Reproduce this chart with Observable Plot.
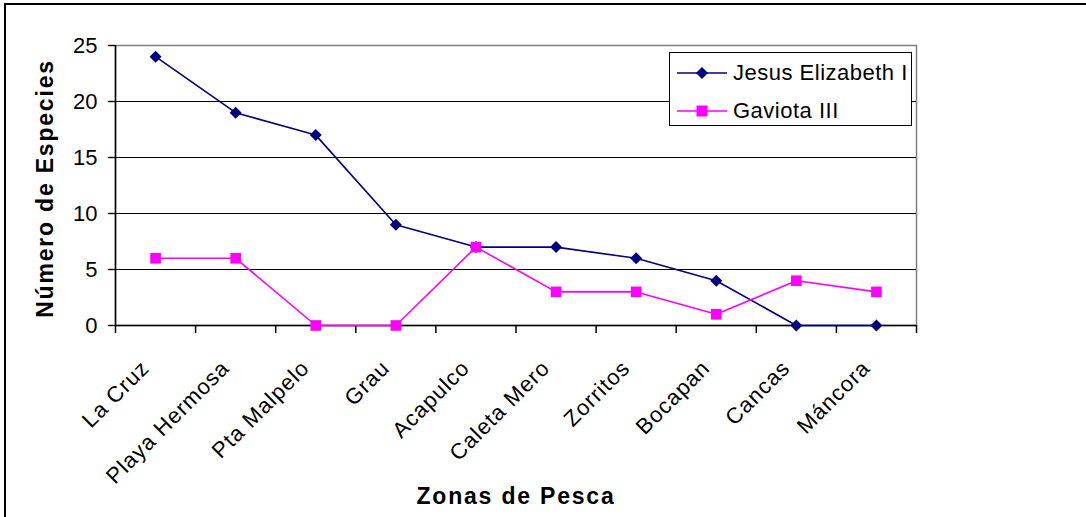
<!DOCTYPE html>
<html>
<head>
<meta charset="utf-8">
<script src="https://cdn.jsdelivr.net/npm/d3@7"></script>
<script src="https://cdn.jsdelivr.net/npm/@observablehq/plot@0.6"></script>
<style>
  body { margin: 0; background: #fff; }
  #wrap { position: relative; width: 1086px; height: 517px; overflow: hidden; font-family: "Liberation Sans", Arial, sans-serif; }
  #border { position: absolute; left: 4px; top: 3px; width: 1100px; height: 600px; border-top: 2px solid #000; border-left: 2px solid #000; box-sizing: border-box; pointer-events: none; }
  #legend { position: absolute; left: 669px; top: 52px; width: 243px; height: 74px; border: 1px solid #000; background: #fff; box-sizing: border-box; }
  .row { position: absolute; left: 7px; height: 30px; display: flex; align-items: center; font-size: 22px; letter-spacing: 0.5px; color: #000; white-space: nowrap; }
  .row svg { margin-right: 6px; }
</style>
</head>
<body>
<div id="wrap"></div>
<script>
const zonas = ["La Cruz", "Playa Hermosa", "Pta Malpelo", "Grau", "Acapulco", "Caleta Mero", "Zorritos", "Bocapan", "Cancas", "Máncora"];
const jesus = [24, 19, 17, 9, 7, 7, 6, 4, 0, 0];
const gaviota = [6, 6, 0, 0, 7, 3, 3, 1, 4, 3];
const yTicks = [0, 5, 10, 15, 20, 25];
const seriesNames = ["Jesus Elizabeth I", "Gaviota III"];
const colors = ["#000080", "#FF00FF"];

const n = zonas.length;
const centers = zonas.map((_, i) => i + 0.5);
const boundaries = d3.range(n + 1);
const dJ = zonas.map((z, i) => ({x: i + 0.5, y: jesus[i]}));
const dG = zonas.map((z, i) => ({x: i + 0.5, y: gaviota[i]}));

const font = "Liberation Sans, Arial, sans-serif";

const chart = Plot.plot({
  width: 1086,
  height: 517,
  marginLeft: 115,
  marginRight: 170,
  marginTop: 45,
  marginBottom: 192,
  style: {fontFamily: font, color: "#000", background: "transparent", overflow: "visible"},
  x: {type: "linear", domain: [0, n]},
  y: {domain: [0, 25]},
  marks: [
    Plot.gridY(yTicks, {stroke: "#000", strokeOpacity: 1, strokeWidth: 1}),
    Plot.frame({stroke: "#808080", strokeWidth: 1.5}),
    Plot.axisY(yTicks, {tickSize: 7, tickPadding: 11, fontSize: 22, label: null, stroke: "#000", strokeWidth: 1.4}),
    Plot.axisX(boundaries, {tickSize: 8, tickFormat: null, text: null, label: null, stroke: "#000", strokeWidth: 1.5, strokeOpacity: 1}),
    Plot.axisX(centers, {tickSize: 0, tickPadding: 39, tickRotate: -45, fontSize: 22, dx: -10, tickFormat: (d) => zonas[Math.round(d - 0.5)], label: null, className: "xlab"}),
    Plot.ruleX([0], {stroke: "#000", strokeWidth: 1.5}),
    Plot.ruleY([0], {stroke: "#000", strokeWidth: 1.5}),
    Plot.line(dJ, {x: "x", y: "y", stroke: colors[0], strokeWidth: 1.6}),
    Plot.line(dG, {x: "x", y: "y", stroke: colors[1], strokeWidth: 1.6}),
    Plot.dot(dJ, {x: "x", y: "y", symbol: "diamond2", r: 5.4, fill: colors[0], stroke: "none"}),
    Plot.dot(dG, {x: "x", y: "y", symbol: "square", r: 6, fill: colors[1], stroke: "none"}),
    Plot.text(["Número de Especies"], {frameAnchor: "left", textAnchor: "middle", dx: -70, dy: 3, rotate: -90, fontSize: 23, fontWeight: "bold", text: d => d, className: "title"}),
    Plot.text(["Zonas de Pesca"], {frameAnchor: "bottom", textAnchor: "middle", dy: 178, fontSize: 23, fontWeight: "bold", text: d => d, className: "title"})
  ]
});

const wrap = document.getElementById("wrap");
wrap.appendChild(chart);
chart.querySelectorAll(".title text").forEach(t => t.setAttribute("letter-spacing", "1.8"));
chart.querySelectorAll(".xlab text").forEach(t => t.setAttribute("letter-spacing", "1"));

const border = document.createElement("div");
border.id = "border";
wrap.appendChild(border);

const legend = document.createElement("div");
legend.id = "legend";
const markers = [
  '<polygon points="25,3 31,9 25,15 19,9" fill="' + colors[0] + '"/>',
  '<rect x="19.5" y="3.5" width="11" height="11" fill="' + colors[1] + '"/>'
];
seriesNames.forEach((name, i) => {
  const row = document.createElement("div");
  row.className = "row";
  row.style.top = (i === 0 ? 5 : 43) + "px";
  row.innerHTML = '<svg width="50" height="18"><line x1="0" x2="50" y1="9" y2="9" stroke="' + colors[i] + '" stroke-width="1.6"/>' + markers[i] + '</svg><span>' + name + '</span>';
  legend.appendChild(row);
});
wrap.appendChild(legend);
</script>
</body>
</html>
